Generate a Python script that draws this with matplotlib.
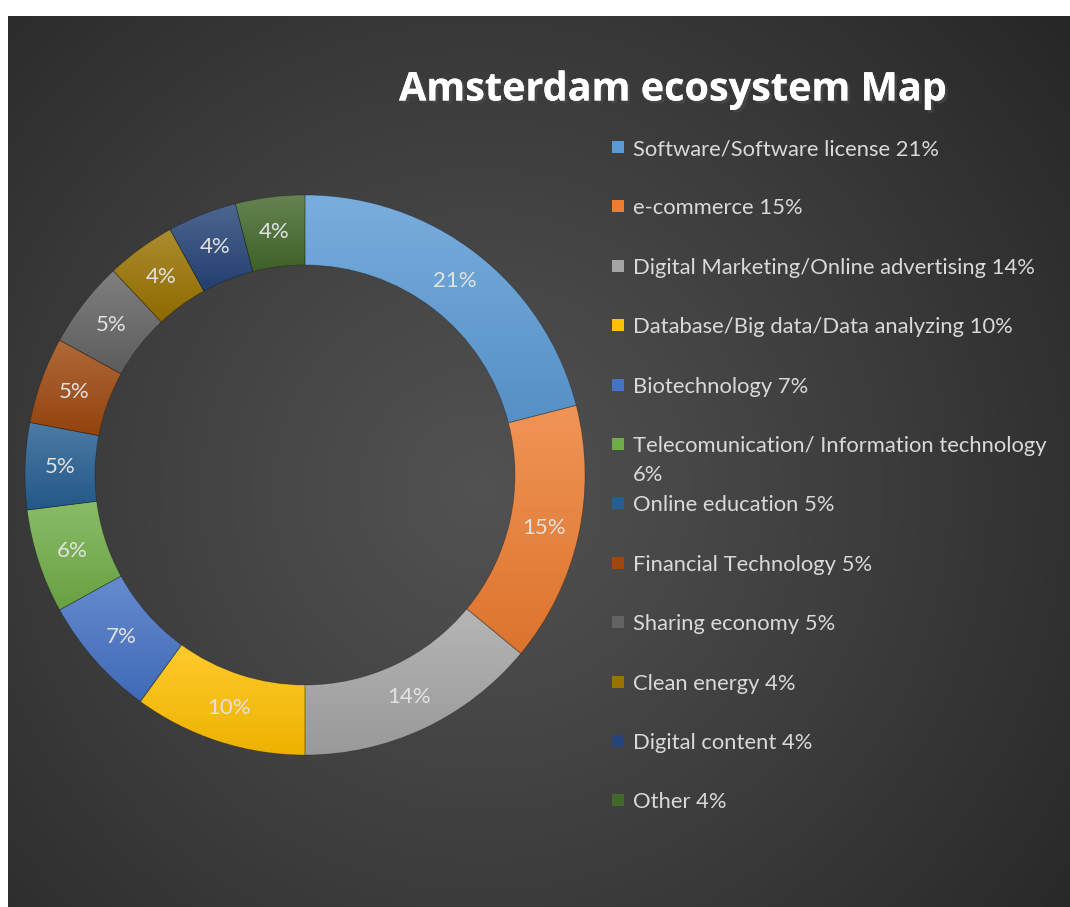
import matplotlib
matplotlib.use("Agg")
import matplotlib.pyplot as plt
import matplotlib.colors as mcolors
import matplotlib.patheffects as pe
from matplotlib.patches import Rectangle
import numpy as np

plt.rcParams['font.family'] = ['Lato', 'DejaVu Sans']

# data
categories = ["Software/Software license", "e-commerce",
              "Digital Marketing/Online advertising",
              "Database/Big data/Data analyzing", "Biotechnology",
              "Telecomunication/ Information technology", "Online education",
              "Financial Technology", "Sharing economy", "Clean energy",
              "Digital content", "Other"]
shares = [21, 15, 14, 10, 7, 6, 5, 5, 5, 4, 4, 4]
colors = ["#5B9BD5", "#ED7D31", "#A5A5A5", "#FFC000", "#4472C4", "#70AD47",
          "#255E91", "#9E480E", "#636363", "#997300", "#264478", "#43682B"]
legend_labels = [f"{c} {s}%" for c, s in zip(categories, shares)]
legend_labels[5] = "Telecomunication/ Information technology\n6%"

W, H = 1070, 907
fig = plt.figure(figsize=(W / 100, H / 100), dpi=100, facecolor="white")

# dark radial-gradient background
bg = fig.add_axes([0, 0, 1, 1])
bg.set_xlim(0, W)
bg.set_ylim(H, 0)
bg.axis("off")
yy, xx = np.mgrid[16:H:2, 8:W:2]
d = np.sqrt((xx - 480) ** 2 + (yy - 490) ** 2) / 760
d = np.clip(d, 0, 1)
c_in = np.array([0.32, 0.32, 0.32])
c_out = np.array([0.15, 0.15, 0.15])
img = c_in + (c_out - c_in) * d[..., None] ** 1.1
bg.imshow(img, extent=(8, W, H, 16), aspect="auto", interpolation="bilinear")

# title
bg.text(673, 90, "Amsterdam ecosystem Map", color="white", fontsize=28.5,
        fontweight="bold", family="Open Sans", ha="center", va="center",
        path_effects=[pe.withSimplePatchShadow(offset=(2, -2), alpha=0.6),
                      pe.Normal()])

# donut
cx, cy, R = 305, 475, 280
ax = fig.add_axes([(cx - R) / W, (H - cy - R) / H, 2 * R / W, 2 * R / H])

wedges, texts = ax.pie(shares, colors=colors, startangle=90, counterclock=False,
                       radius=1, wedgeprops=dict(width=0.25, edgecolor=(0, 0, 0, 0.25),
                                                 linewidth=0.6),
                       labels=[f"{s}%" for s in shares], labeldistance=0.875,
                       textprops=dict(color="#e2e2e2", fontsize=16, ha="center",
                                      va="center"))

white = np.array([1, 1, 1])
for w, col in zip(wedges, colors):
    base = np.array(mcolors.to_rgb(col))
    top = base + (white - base) * 0.18
    bot = base * 0.93
    bb = w.get_path().get_extents()
    t = np.linspace(0, 1, 64)[:, None]
    grad = (top + (bot - top) * t)[:, None, :]
    im = ax.imshow(grad, extent=(bb.x0, bb.x1, bb.y0, bb.y1), aspect="auto",
                   origin="upper", zorder=w.get_zorder() + 0.1)
    im.set_clip_path(w)
    w.set_zorder(w.get_zorder() + 0.2)
    w.set_facecolor("none")
for t in texts:
    t.set_zorder(5)
ax.set_xlim(-1, 1)
ax.set_ylim(-1, 1)
ax.set_aspect("equal")
ax.axis("off")

# legend
for i, lab in enumerate(legend_labels):
    y = 147 + 59.4 * i
    bg.add_patch(Rectangle((612, y - 6), 12, 12, facecolor=colors[i],
                           edgecolor="none"))
    for j, line in enumerate(lab.split("\n")):
        bg.text(633, y + 8 + 29 * j, line, color="#d9d9d9", fontsize=15.8,
                ha="left", va="baseline")

fig.savefig("out.png", dpi=100, facecolor="white")
